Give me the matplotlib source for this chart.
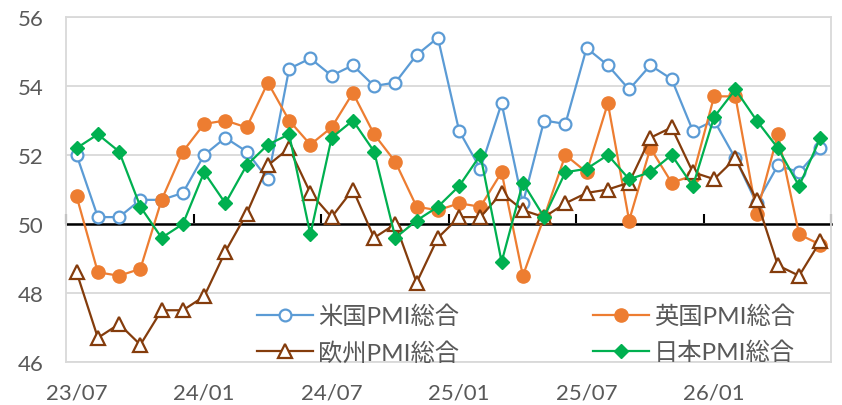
import matplotlib
matplotlib.use("Agg")
import matplotlib.pyplot as plt
import numpy as np

months = ["23/07","23/08","23/09","23/10","23/11","23/12",
          "24/01","24/02","24/03","24/04","24/05","24/06",
          "24/07","24/08","24/09","24/10","24/11","24/12",
          "25/01","25/02","25/03","25/04","25/05","25/06",
          "25/07","25/08","25/09","25/10","25/11","25/12",
          "26/01","26/02","26/03","26/04","26/05","26/06"]

us = [52.0, 50.2, 50.2, 50.7, 50.7, 50.9, 52.0, 52.5, 52.1, 51.3, 54.5, 54.8,
      54.3, 54.6, 54.0, 54.1, 54.9, 55.4, 52.7, 51.6, 53.5, 50.6, 53.0, 52.9,
      55.1, 54.6, 53.9, 54.6, 54.2, 52.7, 53.0, 51.9, 50.6, 51.7, 51.5, 52.2]
uk = [50.8, 48.6, 48.5, 48.7, 50.7, 52.1, 52.9, 53.0, 52.8, 54.1, 53.0, 52.3,
      52.8, 53.8, 52.6, 51.8, 50.5, 50.4, 50.6, 50.5, 51.5, 48.5, 50.2, 52.0,
      51.5, 53.5, 50.1, 52.2, 51.2, 51.4, 53.7, 53.7, 50.3, 52.6, 49.7, 49.4]
eu = [48.6, 46.7, 47.1, 46.5, 47.5, 47.5, 47.9, 49.2, 50.3, 51.7, 52.2, 50.9,
      50.2, 51.0, 49.6, 50.0, 48.3, 49.6, 50.2, 50.2, 50.9, 50.4, 50.2, 50.6,
      50.9, 51.0, 51.2, 52.5, 52.8, 51.5, 51.3, 51.9, 50.7, 48.8, 48.5, 49.5]
jp = [52.2, 52.6, 52.1, 50.5, 49.6, 50.0, 51.5, 50.6, 51.7, 52.3, 52.6, 49.7,
      52.5, 53.0, 52.1, 49.6, 50.1, 50.5, 51.1, 52.0, 48.9, 51.2, 50.2, 51.5,
      51.6, 52.0, 51.3, 51.5, 52.0, 51.1, 53.1, 53.9, 53.0, 52.2, 51.1, 52.5]

labels = ["米国PMI総合", "英国PMI総合", "欧州PMI総合", "日本PMI総合"]
yticks = [46, 48, 50, 52, 54, 56]

GRAY_TXT = "#595959"
GRID = "#d9d9d9"

fig = plt.figure(figsize=(8.42, 4.06), dpi=100)
ax = fig.add_axes([66/842, 1-363/406, (831-66)/842, (363-18)/406])

x = np.arange(len(months))
h_us, = ax.plot(x, us, color="#5B9BD5", lw=1.6, marker="o", ms=8.5, mfc="white",
                mec="#5B9BD5", mew=1.6, label=labels[0], zorder=3)
h_uk, = ax.plot(x, uk, color="#ED7D31", lw=1.6, marker="o", ms=9.5, mfc="#ED7D31",
                mec="#ED7D31", label=labels[1], zorder=4)
h_eu, = ax.plot(x, eu, color="#843C0C", lw=1.6, marker="^", ms=9.5, mfc="white",
                mec="#843C0C", mew=1.6, label=labels[2], zorder=5)
h_jp, = ax.plot(x, jp, color="#00B050", lw=1.6, marker="D", ms=7.5, mfc="#00B050",
                mec="#00B050", label=labels[3], zorder=6)

ax.set_xlim(-0.5, len(months) - 0.5)
ax.set_ylim(46, 56)
ax.set_yticks(yticks)
ax.set_yticklabels([str(v) for v in yticks])
ax.yaxis.grid(True, color=GRID, lw=1.3, zorder=0)
ax.set_axisbelow(True)
ax.tick_params(axis="y", length=0, pad=16, labelsize=16, labelcolor=GRAY_TXT)
for lab in ax.get_yticklabels():
    lab.set_family("Lato")

for s in ["left", "right", "top"]:
    ax.spines[s].set_color(GRID)
    ax.spines[s].set_linewidth(1.3)

# main x axis: black line at 50 with tick marks between categories
ax.spines["bottom"].set_position(("data", 50))
ax.spines["bottom"].set_color("black")
ax.spines["bottom"].set_linewidth(1.8)
ax.spines["bottom"].set_zorder(2)
ax.set_xticks(np.arange(-0.5, len(months), 6))
ax.tick_params(axis="x", direction="in", length=7, width=1.5, color="black",
               labelbottom=False)

# labels at the bottom of the plot area
sec = ax.secondary_xaxis(0)
sec.set_xticks(x[::6])
sec.set_xticklabels(months[::6])
sec.tick_params(axis="x", length=0, pad=15, labelsize=16, labelcolor=GRAY_TXT)
sec.spines["bottom"].set_color(GRID)
sec.spines["bottom"].set_linewidth(1.3)
for lab in sec.get_xticklabels():
    lab.set_family("Lato")

# column-major order so rows read: 米国 英国 / 欧州 日本
handles = [h_us, h_eu, h_uk, h_jp]
leg = ax.legend(handles, [h.get_label() for h in handles],
                loc="center", bbox_to_anchor=(526/842, 1-335/406),
                bbox_transform=fig.transFigure, ncol=2, frameon=False,
                prop={"family": ["Lato", "Noto Sans CJK JP"], "size": 17.5},
                handlelength=2.3, handletextpad=0.2, columnspacing=5.5,
                labelspacing=0.55)
for t in leg.get_texts():
    t.set_color(GRAY_TXT)

fig.savefig("out.png", dpi=100)
